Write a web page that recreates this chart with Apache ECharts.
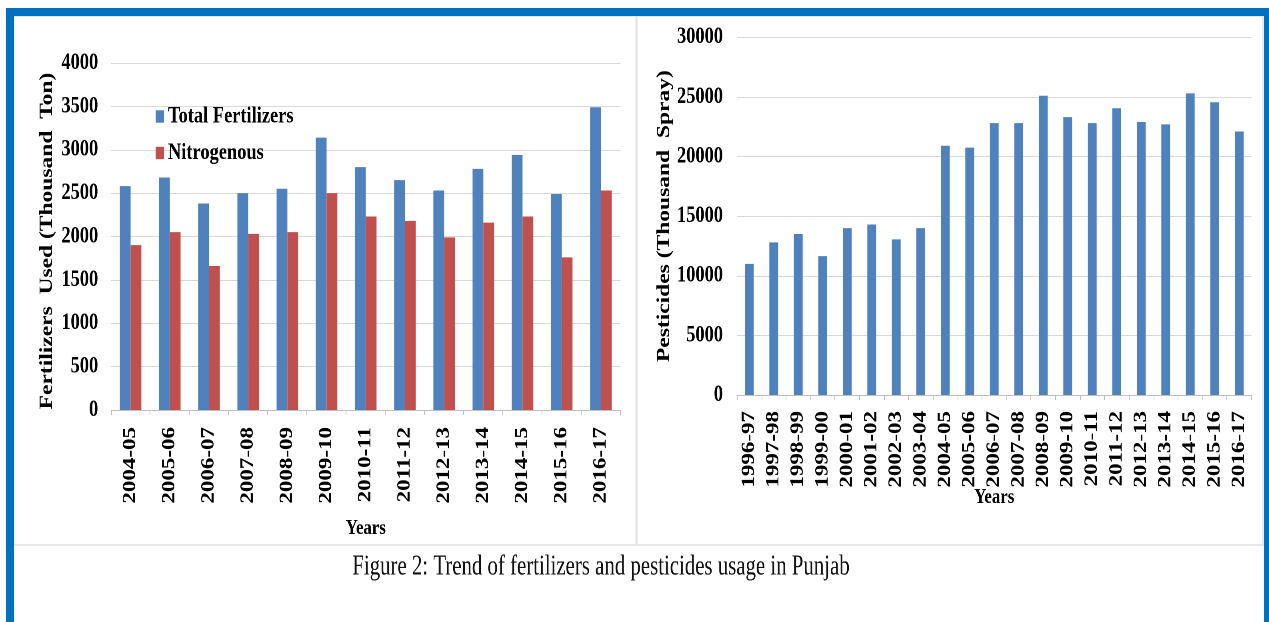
<!DOCTYPE html>
<html>
<head>
<meta charset="utf-8">
<script src="https://cdn.jsdelivr.net/npm/echarts@6/dist/echarts.min.js"></script>
<style>
  html, body { margin: 0; padding: 0; background: #fff; overflow: hidden; width: 1269px; height: 622px; }
  /* the figure is laid out on a wider canvas and condensed horizontally */
  #chart { width: 1586.25px; height: 622px; transform: scaleX(0.8); transform-origin: 0 0; }
</style>
</head>
<body>
<div id="chart"></div>
<script>
// Fertilizer usage in Punjab (thousand tonnes)
const fertilizerYears = ['2004-05', '2005-06', '2006-07', '2007-08', '2008-09', '2009-10', '2010-11',
  '2011-12', '2012-13', '2013-14', '2014-15', '2015-16', '2016-17'];
const totalFertilizers = [2580, 2680, 2380, 2500, 2550, 3140, 2800, 2650, 2530, 2780, 2940, 2490, 3490];
const nitrogenous = [1900, 2050, 1660, 2030, 2050, 2500, 2230, 2180, 1990, 2160, 2230, 1760, 2530];

// Pesticide usage in Punjab (thousand sprays)
const pesticideYears = ['1996-97', '1997-98', '1998-99', '1999-00', '2000-01', '2001-02', '2002-03',
  '2003-04', '2004-05', '2005-06', '2006-07', '2007-08', '2008-09', '2009-10', '2010-11', '2011-12',
  '2012-13', '2013-14', '2014-15', '2015-16', '2016-17'];
const pesticides = [11000, 12800, 13500, 11650, 14000, 14300, 13050, 14000, 20900, 20750, 22800, 22800,
  25100, 23300, 22800, 24050, 22900, 22700, 25300, 24550, 22100];

// value-axis ranges and steps
const fertilizerAxis = { min: 0, max: 4000, interval: 500 };
const pesticideAxis = { min: 0, max: 30000, interval: 5000 };

const caption = 'Figure 2: Trend of fertilizers and pesticides usage in Punjab';

const SERIF = "'Liberation Serif', 'Times New Roman', Times, serif";
const BLUE = '#4F81BD';
const RED = '#C0504D';
const FRAME = '#0070C0';
const GRIDLINE = '#D9D9D9';
const AXISLINE = '#BFBFBF';

const boldText = (size) => ({ color: '#000', fontFamily: SERIF, fontWeight: 'bold', fontSize: size });

const chart = echarts.init(document.getElementById('chart'), null, { renderer: 'canvas', devicePixelRatio: 2 });

function categoryAxis(gridIndex, data, labelMargin, nameGap) {
  return {
    gridIndex, type: 'category', data,
    axisLine: { show: true, lineStyle: { color: AXISLINE, width: 1 } },
    axisTick: { show: true, length: 5, lineStyle: { color: AXISLINE } },
    axisLabel: Object.assign({ rotate: 90, interval: 0, margin: labelMargin }, boldText(23)),
    name: 'Years', nameLocation: 'middle', nameGap, nameMoveOverlap: false,
    nameTextStyle: boldText(21)
  };
}

function valueAxis(gridIndex, range, labelMargin, name, nameGap, namePad) {
  return {
    gridIndex, type: 'value', min: range.min, max: range.max, interval: range.interval,
    axisLine: { show: false }, axisTick: { show: false },
    splitLine: { show: true, lineStyle: { color: GRIDLINE, width: 1 } },
    axisLabel: Object.assign({ margin: labelMargin, formatter: (v) => String(v) }, boldText(23)),
    name, nameLocation: 'middle', nameGap, nameMoveOverlap: false,
    nameTextStyle: Object.assign({ padding: namePad }, boldText(23.5))
  };
}

const option = {
  backgroundColor: '#fff',
  animation: false,
  textStyle: { fontFamily: SERIF },
  legend: {
    data: ['Total Fertilizers', 'Nitrogenous'],
    orient: 'vertical', left: 189.6, top: 100, itemGap: 13.5,
    itemWidth: 10.4, itemHeight: 12.4, icon: 'rect',
    textStyle: boldText(23)
  },
  grid: [
    { left: 138.75, top: 63, width: 636.9, height: 347, containLabel: false, outerBoundsMode: 'none' },
    { left: 921.25, top: 37.3, width: 643.1, height: 357.7, containLabel: false, outerBoundsMode: 'none' }
  ],
  xAxis: [
    categoryAxis(0, fertilizerYears, 17, 108),
    categoryAxis(1, pesticideYears, 16, 92)
  ],
  yAxis: [
    valueAxis(0, fertilizerAxis, 16, 'Fertilizers  Used (Thousand  Ton)', 68, [0, 9, 0, 0]),
    valueAxis(1, pesticideAxis, 17.5, 'Pesticides (Thousand  Spray)', 79, [0, 0, 0, 0])
  ],
  series: [
    { type: 'bar', name: 'Total Fertilizers', xAxisIndex: 0, yAxisIndex: 0, data: totalFertilizers,
      barWidth: '27.5%', barGap: '0%', itemStyle: { color: BLUE } },
    { type: 'bar', name: 'Nitrogenous', xAxisIndex: 0, yAxisIndex: 0, data: nitrogenous,
      barWidth: '27.5%', barGap: '0%', itemStyle: { color: RED } },
    { type: 'bar', name: 'Pesticides', xAxisIndex: 1, yAxisIndex: 1, data: pesticides,
      barWidth: '36%', itemStyle: { color: BLUE } }
  ],
  graphic: [
    // light panel outlines around each chart
    { type: 'rect', z: 1, shape: { x: 17.5, y: 16, width: 777.5, height: 529 },
      style: { fill: 'none', stroke: '#D0D0D0', lineWidth: 1 } },
    { type: 'rect', z: 1, shape: { x: 796.25, y: 16, width: 782.5, height: 529 },
      style: { fill: 'none', stroke: '#D0D0D0', lineWidth: 1 } },
    // blue page frame
    { type: 'rect', z: 10, shape: { x: 7.5, y: 8, width: 1580, height: 8 }, style: { fill: FRAME } },
    { type: 'rect', z: 10, shape: { x: 7.5, y: 8, width: 10, height: 620 }, style: { fill: FRAME } },
    { type: 'rect', z: 10, shape: { x: 1580, y: 8, width: 10, height: 620 }, style: { fill: FRAME } },
    // figure caption, set in a slightly narrower face
    { type: 'text', z: 10, x: 751.25, y: 567, scaleX: 0.93,
      style: { text: caption, fontFamily: SERIF, fontSize: 28, fill: '#111',
               align: 'center', verticalAlign: 'middle' } }
  ]
};

chart.setOption(option);
</script>
</body>
</html>
